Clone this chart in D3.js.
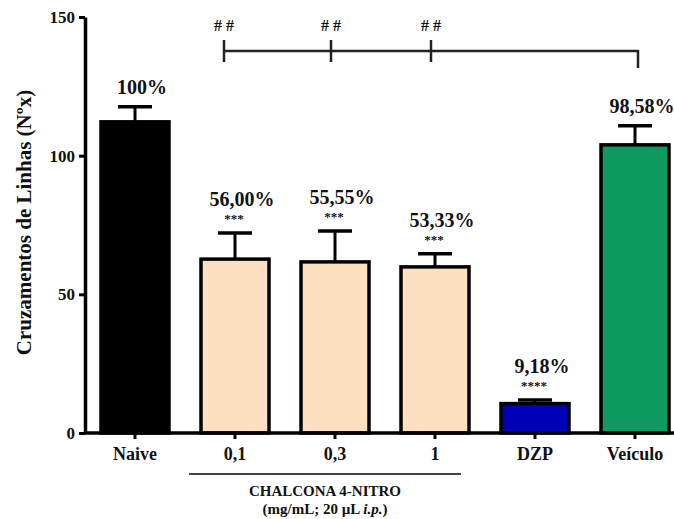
<!DOCTYPE html>
<html>
<head>
<meta charset="utf-8">
<script src="https://cdn.jsdelivr.net/npm/d3@7"></script>
<style>
  html, body { margin: 0; padding: 0; background: #fff; }
  svg { display: block; }
  text { font-family: "Liberation Serif", "DejaVu Serif", serif; font-weight: bold; fill: #111; }
</style>
</head>
<body>
<svg id="chart" width="674" height="519"></svg>
<script>
const categories = ["Naive", "0,1", "0,3", "1", "DZP", "Veículo"];
const means = [112.2, 62.7, 61.7, 59.9, 10.6, 103.9];
const sems = [5.4, 9.4, 11.1, 4.7, 1.3, 6.9];
const percentLabels = ["100%", "56,00%", "55,55%", "53,33%", "9,18%", "98,58%"];
const starLabels = ["", "***", "***", "***", "****", ""];
const colors = ["#000000", "#fde0c2", "#fde0c2", "#fde0c2", "#0000b8", "#0e9a60"];
const yTicks = [0, 50, 100, 150];
const hashGroups = ["0,1", "0,3", "1"];
const hashTarget = "Veículo";

(function () {
const svg = d3.select("#chart");
const mLeft = 85, mRight = 685, mTop = 17, mBottom = 433;

const x = d3.scaleBand().domain(categories).range([mLeft, mRight])
  .paddingInner(0.32).paddingOuter(0.16);
const y = d3.scaleLinear().domain([0, 150]).range([mBottom, mTop]);
const cx = c => x(c) + x.bandwidth() / 2;

// bars
svg.selectAll("rect.bar").data(categories).enter().append("rect")
  .attr("class", "bar")
  .attr("x", c => x(c))
  .attr("width", x.bandwidth())
  .attr("y", (c, i) => y(means[i]))
  .attr("height", (c, i) => y(0) - y(means[i]))
  .attr("fill", (c, i) => colors[i])
  .attr("stroke", "#000").attr("stroke-width", 3.5);

// error bars
const capW = 34;
categories.forEach((c, i) => {
  const yt = y(means[i] + sems[i]);
  svg.append("line").attr("x1", cx(c)).attr("x2", cx(c))
    .attr("y1", y(means[i])).attr("y2", yt)
    .attr("stroke", "#000").attr("stroke-width", 3);
  svg.append("line").attr("x1", cx(c) - capW / 2).attr("x2", cx(c) + capW / 2)
    .attr("y1", yt).attr("y2", yt)
    .attr("stroke", "#000").attr("stroke-width", 3.5);
  if (starLabels[i]) {
    svg.append("text").attr("x", cx(c) - 1).attr("y", yt - 10)
      .attr("text-anchor", "middle").attr("font-size", 13)
      .attr("fill", "#333").text(starLabels[i]);
    svg.append("text").attr("x", cx(c) + 7).attr("y", yt - 27)
      .attr("text-anchor", "middle").attr("font-size", 20)
      .text(percentLabels[i]);
  } else {
    svg.append("text").attr("x", cx(c) + 7).attr("y", yt - 13)
      .attr("text-anchor", "middle").attr("font-size", 20)
      .text(percentLabels[i]);
  }
});

// y axis
const yAxis = svg.append("g").attr("transform", `translate(${mLeft},0)`)
  .call(d3.axisLeft(y).tickValues(yTicks).tickSize(6).tickPadding(4).tickSizeOuter(0));
yAxis.select(".domain").attr("stroke", "#000").attr("stroke-width", 3.5);
yAxis.selectAll(".tick line").attr("stroke", "#000").attr("stroke-width", 3);
yAxis.selectAll(".tick text").attr("font-size", 17)
  .attr("font-family", "Liberation Serif").attr("font-weight", "bold").attr("fill", "#222");

// x axis
const xAxis = svg.append("g").attr("transform", `translate(0,${mBottom})`)
  .call(d3.axisBottom(x).tickSize(6).tickPadding(8).tickSizeOuter(0));
xAxis.select(".domain").attr("stroke", "#000").attr("stroke-width", 3.5)
  .attr("d", `M${mLeft},0H674`);
xAxis.selectAll(".tick line").attr("stroke", "#000").attr("stroke-width", 3);
xAxis.selectAll(".tick text").attr("font-size", 18)
  .attr("font-family", "Liberation Serif").attr("font-weight", "bold").attr("fill", "#222");

// y axis title
svg.append("text")
  .attr("transform", `translate(31,${(83 + 362) / 2}) rotate(-90)`)
  .attr("text-anchor", "middle").attr("font-size", 21)
  .text("Cruzamentos de Linhas (Nºx)");

// group underline and caption
const g0 = x("0,1"), g1 = x("1") + x.bandwidth();
svg.append("line").attr("x1", g0 - 12).attr("x2", g1 - 8)
  .attr("y1", 474).attr("y2", 474).attr("stroke", "#444").attr("stroke-width", 2);
const capX = (g0 - 12 + g1 - 8) / 2;
svg.append("text").attr("x", capX).attr("y", 496).attr("text-anchor", "middle")
  .attr("font-size", 15).text("CHALCONA 4-NITRO");
const t2 = svg.append("text").attr("x", capX).attr("y", 514).attr("text-anchor", "middle")
  .attr("font-size", 15);
t2.append("tspan").text("(mg/mL; 20 µL ");
t2.append("tspan").attr("font-style", "italic").text("i.p.");
t2.append("tspan").text(")");

// significance bracket
const offsets = [-11, -4, -4];
const hashX = hashGroups.map((c, i) => cx(c) + offsets[i]);
const lineY = 51;
const endX = cx(hashTarget) + 3;
svg.append("line").attr("x1", hashX[0]).attr("x2", endX)
  .attr("y1", lineY).attr("y2", lineY).attr("stroke", "#222").attr("stroke-width", 2.5);
svg.append("line").attr("x1", endX).attr("x2", endX)
  .attr("y1", lineY - 1).attr("y2", 68).attr("stroke", "#222").attr("stroke-width", 2.5);
hashX.forEach(hx => {
  svg.append("line").attr("x1", hx).attr("x2", hx).attr("y1", 40).attr("y2", 62)
    .attr("stroke", "#222").attr("stroke-width", 2.5);
  svg.append("text").attr("x", hx).attr("y", 31).attr("text-anchor", "middle")
    .attr("font-size", 16).attr("fill", "#333").text("# #");
});
})();
</script>
</body>
</html>
